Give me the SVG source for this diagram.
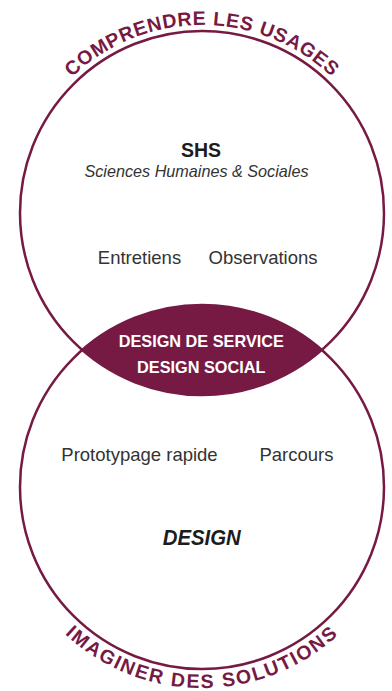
<svg xmlns="http://www.w3.org/2000/svg" width="392" height="691" viewBox="0 0 392 691">
  <style>
    .ring { fill: none; stroke: #761a44; stroke-width: 2.5; }
    .lens { fill: #761a44; stroke: none; }
    .arc-label { font-family: "Liberation Sans", Arial, sans-serif; font-weight: bold; font-size: 19.5px; fill: #761a44; }
    .title { font-family: "Liberation Sans", Arial, sans-serif; font-weight: bold; fill: #1c1c1c; text-anchor: middle; }
    .item { font-family: "Liberation Sans", Arial, sans-serif; font-size: 18.5px; fill: #333333; text-anchor: middle; }
    .sub { font-family: "Liberation Sans", Arial, sans-serif; font-style: italic; font-size: 16.2px; fill: #333333; text-anchor: middle; }
    .lens-text { font-family: "Liberation Sans", Arial, sans-serif; font-weight: bold; font-size: 16.3px; fill: #ffffff; text-anchor: middle; }
  </style>
  <defs>
    <!-- baseline arcs for the curved captions, concentric with each circle -->
    <path id="arc-top" d="M 39.2 119 A 188 188 0 0 1 364.8 119"/>
    <path id="arc-bottom" d="M 27.9 587.5 A 201 201 0 0 0 376.1 587.5"/>
  </defs>

  <rect width="392" height="691" fill="#ffffff"/>

  <!-- upper circle: human and social sciences -->
  <g id="shs">
    <circle class="ring" cx="202" cy="213" r="182"/>
    <text class="arc-label" letter-spacing="0.7"><textPath href="#arc-top" startOffset="50%" text-anchor="middle">COMPRENDRE LES USAGES</textPath></text>
    <text class="title" x="201" y="157" font-size="19.5">SHS</text>
    <text class="sub" x="196.5" y="177">Sciences Humaines &amp; Sociales</text>
    <text class="item" x="139.5" y="264">Entretiens</text>
    <text class="item" x="263" y="264">Observations</text>
  </g>

  <!-- lower circle: design -->
  <g id="design">
    <circle class="ring" cx="202" cy="487" r="182"/>
    <text class="arc-label" letter-spacing="1.8"><textPath href="#arc-bottom" startOffset="50%" text-anchor="middle">IMAGINER DES SOLUTIONS</textPath></text>
    <text class="item" x="139.5" y="461">Prototypage rapide</text>
    <text class="item" x="296.5" y="461">Parcours</text>
    <text class="title" x="201.7" y="545" font-size="22" font-style="italic" textLength="78" lengthAdjust="spacingAndGlyphs">DESIGN</text>
  </g>

  <!-- overlap of the two circles -->
  <g id="overlap">
    <path class="lens" d="M 82.2 350 A 182 182 0 0 1 321.8 350 A 182 182 0 0 1 82.2 350 Z"/>
    <text class="lens-text" x="201.3" y="347.3">DESIGN DE SERVICE</text>
    <text class="lens-text" x="201.3" y="373.3">DESIGN SOCIAL</text>
  </g>
</svg>
